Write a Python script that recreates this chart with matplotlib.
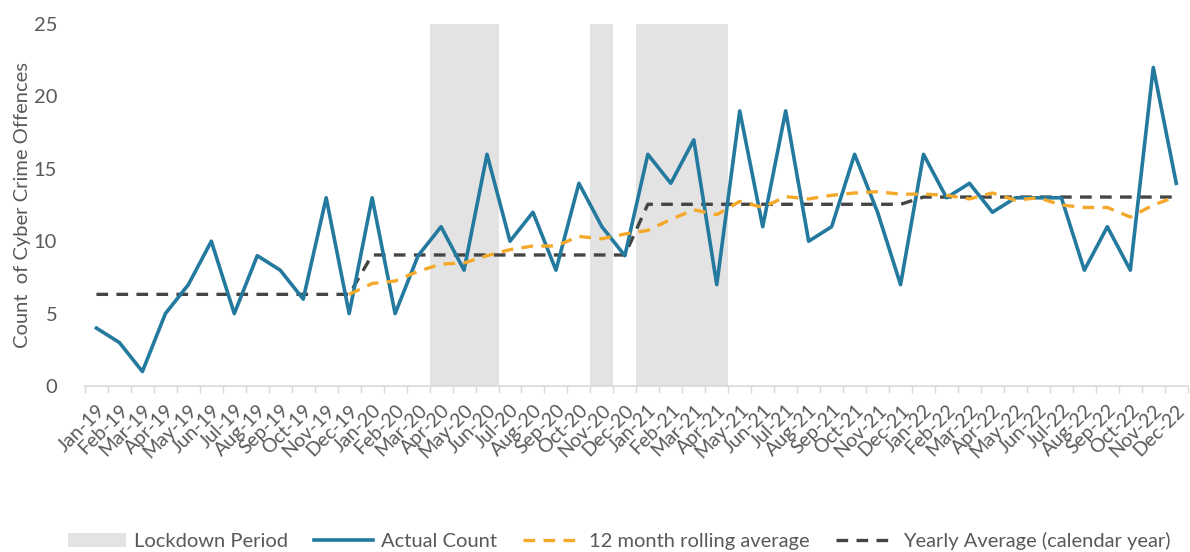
import matplotlib.pyplot as plt
import numpy as np

# month labels
months = ['Jan', 'Feb', 'Mar', 'Apr', 'May', 'Jun', 'Jul', 'Aug', 'Sep', 'Oct', 'Nov', 'Dec']
labels = [f'{m}-{y}' for y in ['19', '20', '21', '22'] for m in months]

# actual monthly counts
actual = [4, 3, 1, 5, 7, 10, 5, 9, 8, 6, 13, 5,
          13, 5, 9, 11, 8, 16, 10, 12, 8, 14, 11, 9,
          16, 14, 17, 7, 19, 11, 19, 10, 11, 16, 12, 7,
          16, 13, 14, 12, 13, 13, 13, 8, 11, 8, 22, 14]

# 12 month rolling average (starts Dec-19)
rolling = [None] * 11 + [6.33,
           7.08, 7.25, 7.92, 8.42, 8.50, 9.00, 9.42, 9.67, 9.67, 10.33, 10.17, 10.50,
           10.75, 11.50, 12.17, 11.83, 12.75, 12.33, 13.08, 12.92, 13.17, 13.33, 13.42, 13.25,
           13.25, 13.17, 12.92, 13.33, 12.83, 13.00, 12.50, 12.33, 12.33, 11.67, 12.50, 13.08]

# yearly average per calendar year
yearly = [6.33] * 12 + [9.05] * 12 + [12.55] * 12 + [13.05] * 12

# lockdown months (Apr-Jun 20, Nov-20, Jan-Apr 21)
lockdown = [0] * 48
for i in [15, 16, 17, 22, 24, 25, 26, 27]:
    lockdown[i] = 25

plt.rcParams['font.family'] = ['Lato', 'DejaVu Sans']
grey_txt = '#595959'

fig = plt.figure(figsize=(11.9, 5.52), dpi=100)
ax = fig.add_axes([0.0714, 0.3007, 0.9267, 0.6558])

x = np.arange(48)
ax.bar(x, lockdown, width=1.0, color='#e3e3e3', label='Lockdown Period', zorder=1)
ax.plot(x, actual, color='#23799e', lw=2.6, label='Actual Count', zorder=3)
roll = np.array([np.nan if v is None else v for v in rolling], dtype=float)
ax.plot(x, roll, color='#f5a92a', lw=2.4, ls=(0, (3.5, 2.5)), label='12 month rolling average', zorder=4)
ax.plot(x, yearly, color='#444444', lw=2.4, ls=(0, (3.5, 2.5)), label='Yearly Average (calendar year)', zorder=2)

ax.set_xlim(-0.5, 47.5)
ax.set_ylim(0, 25)
ax.set_yticks([0, 5, 10, 15, 20, 25])
ax.tick_params(axis='y', length=0, labelsize=14.5, labelcolor=grey_txt, pad=20)

ax.set_xticks(np.arange(-0.5, 48, 1), minor=True)
ax.set_xticks(x)
ax.set_xticklabels(labels, rotation=45, ha='right', rotation_mode='anchor')
ax.tick_params(axis='x', which='major', length=0, labelsize=14, labelcolor=grey_txt, pad=11)
ax.tick_params(axis='x', which='minor', length=5, color='#d9d9d9', width=1)

for s in ['top', 'right', 'left']:
    ax.spines[s].set_visible(False)
ax.spines['bottom'].set_color('#d9d9d9')
ax.spines['bottom'].set_linewidth(1.2)

ax.set_ylabel('Count  of Cyber Crime Offences', fontsize=14.5, color=grey_txt, labelpad=2)

handles, lbls = ax.get_legend_handles_labels()
order = [3, 0, 1, 2]
leg = fig.legend([handles[i] for i in order], [lbls[i] for i in order],
                 loc='lower center', bbox_to_anchor=(0.52, -0.03), ncol=4, frameon=False,
                 fontsize=14.5, handlelength=2.9, columnspacing=1.3, handletextpad=0.4)
for t in leg.get_texts():
    t.set_color(grey_txt)

fig.savefig('out.png', dpi=100)
